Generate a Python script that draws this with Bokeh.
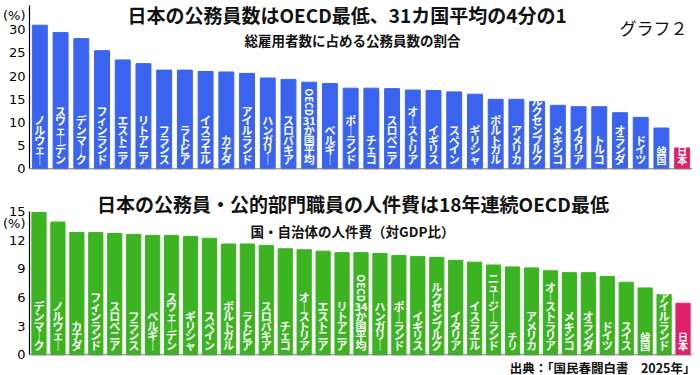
import math
from bokeh.plotting import figure
from bokeh.models import ColumnDataSource, FactorRange, Range1d, FixedTicker, Label, Span
from bokeh.layouts import column
from bokeh.embed import file_html
from bokeh.resources import INLINE
from bokeh.core.properties import value

# ---- data: top chart (公務員数の割合, %) ----
top_countries = ["ノルウェー", "スウェーデン", "デンマーク", "フィンランド", "エストニア", "リトアニア",
                 "フランス", "ラトビア", "イスラエル", "カナダ", "アイルランド", "ハンガリー", "スロバキア",
                 "OECD 31か国平均", "ベルギー", "ポーランド", "チェコ", "スロベニア", "オーストリア",
                 "イギリス", "スペイン", "ギリシャ", "ポルトガル", "アメリカ", "ルクセンブルク",
                 "メキシコ", "イタリア", "トルコ", "オランダ", "ドイツ", "韓国", "日本"]
top_values = [31.0, 29.4, 28.1, 25.5, 23.5, 22.7, 21.3, 21.3, 21.0, 20.9, 20.6, 19.6, 19.3,
              18.7, 18.4, 17.4, 17.4, 17.3, 17.0, 16.9, 16.6, 16.1, 15.0, 15.0, 14.5,
              13.7, 13.4, 13.4, 12.1, 11.1, 8.8, 4.5]
top_ticks = [0, 5, 10, 15, 20, 25, 30]

# ---- data: bottom chart (人件費 対GDP比, %) ----
bottom_countries = ["デンマーク", "ノルウェー", "カナダ", "フィンランド", "スロベニア", "フランス",
                    "ベルギー", "スウェーデン", "ギリシャ", "スペイン", "ポルトガル", "ラトビア",
                    "スロバキア", "チェコ", "オーストリア", "エストニア", "リトアニア", "OECD 34か国平均",
                    "ハンガリー", "ポーランド", "イギリス", "ルクセンブルク", "イタリア", "イスラエル",
                    "ニュージーランド", "チリ", "アメリカ", "オーストラリア", "メキシコ", "オランダ",
                    "ドイツ", "スイス", "韓国", "アイルランド", "日本"]
bottom_values = [14.9, 13.9, 12.8, 12.8, 12.7, 12.6, 12.5, 12.5, 12.4, 12.2, 11.6, 11.6,
                 11.45, 11.1, 11.0, 10.85, 10.7, 10.7, 10.6, 10.4, 10.3, 10.2, 9.9, 9.7,
                 9.4, 9.2, 9.1, 8.8, 8.6, 8.6, 8.2, 7.6, 7.0, 6.3, 5.4]
bottom_ticks = [0, 3, 6, 9, 12, 15]

top_title = "日本の公務員数はOECD最低、31カ国平均の4分の1"
top_subtitle = "総雇用者数に占める公務員数の割合"
graph_tag = "グラフ２"
bottom_title = "日本の公務員・公的部門職員の人件費は18年連続OECD最低"
bottom_subtitle = "国・自治体の人件費（対GDP比）"
source_note = "出典：「国民春闘白書　2025年」"
unit_label = "(%)"
highlight = "日本"

JP = "Noto Sans CJK JP"
BLUE = "#3a64f0"
GREEN = "#3cb422"
PINK = "#e0216a"
LBL_FS = 11
LBL_LH = 0.6
CJK_EM = 1.448  # line box of Noto Sans CJK, in em


def vertical_text(name):
    if name.startswith("OECD"):
        tail = name.split(" ")[1]
        return "\n".join([tail[:2]] + list(tail[2:]))
    return "\n".join("｜" if c == "ー" else c for c in name)


def make_chart(countries, values, ticks, color, width, height, y_start, y_end,
               border_left, border_right, bar_width, bounds, unit_at):
    p = figure(width=width, height=height, output_backend="svg", toolbar_location=None,
               x_range=FactorRange(factors=countries, range_padding=0),
               y_range=Range1d(y_start, y_end), x_axis_location=None,
               min_border_left=border_left, min_border_right=border_right,
               min_border_top=0, min_border_bottom=0)
    p.outline_line_color = None
    p.grid.visible = False
    p.background_fill_color = "white"
    p.border_fill_color = "white"

    colors = [PINK if c == highlight else color for c in countries]
    src = ColumnDataSource(dict(x=countries, top=values, color=colors))
    p.vbar(x="x", top="top", bottom=0, width=bar_width, color="color", source=src)

    p.add_layout(Span(location=0, dimension="width", line_color="#777777", line_width=1))

    ax = p.yaxis[0]
    # the "(%)" unit sits in the tick-label column, just like in the original
    ax.ticker = FixedTicker(ticks=ticks + [unit_at])
    ax.major_label_overrides = {unit_at: unit_label}
    ax.bounds = bounds
    ax.major_tick_out = 0
    ax.major_tick_in = 0
    ax.minor_tick_out = 0
    ax.minor_tick_in = 0
    ax.axis_line_color = "black"
    ax.axis_line_width = 1.2
    ax.major_label_text_font = "DejaVu Sans"
    ax.major_label_text_font_size = "13px"
    ax.major_label_text_color = "black"
    ax.major_label_standoff = 4

    # vertical labels inside bars
    texts = [vertical_text(c) for c in countries]
    sizes = ["10px" if len(c) <= 2 else f"{LBL_FS}px" for c in countries]
    lsrc = ColumnDataSource(dict(x=countries, y=[0] * len(countries), text=texts, fs=sizes))
    p.text(x="x", y="y", text="text", source=lsrc, text_color="white",
           text_font=value(JP), text_font_style="bold", text_font_size="fs",
           text_align="center", text_baseline="bottom", text_line_height=LBL_LH,
           y_offset=-2)

    # rotated "OECD" part of the average label
    oecd = [c for c in countries if c.startswith("OECD")]
    osrc = ColumnDataSource(dict(x=oecd, y=[0] * len(oecd), text=["OECD"] * len(oecd)))
    p.text(x="x", y="y", text="text", source=osrc, text_color="white",
           text_font=value(JP), text_font_style="bold", text_font_size="10px",
           text_align="right", text_baseline="middle", angle=-math.pi / 2,
           y_offset=-(2 + 5 * LBL_FS * LBL_LH * CJK_EM + 3))
    return p


def label(p, x, y, text, size, bold=True, font=JP, align="center"):
    p.add_layout(Label(x=x, y=y, x_units="screen", y_units="screen", text=text,
                       text_font=font, text_font_style="bold" if bold else "normal",
                       text_font_size=size, text_align=align, text_baseline="middle",
                       text_color="#111111"))


# ---- top chart ----  (frame covers whole figure; 0 sits 12px above bottom)
p1 = make_chart(top_countries, top_values, top_ticks, BLUE, width=700, height=180,
                y_start=-2.53, y_end=36.33, border_left=28, border_right=7,
                bar_width=0.72, bounds=(0, 35.2), unit_at=33.1)
label(p1, 317.5, 166, top_title, "19px")
label(p1, 323, 141, top_subtitle, "13.5px")
label(p1, 624, 153, graph_tag, "17px", bold=False)

# ---- bottom chart ----
p2 = make_chart(bottom_countries, bottom_values, bottom_ticks, GREEN, width=700, height=195,
                y_start=-2.17, y_end=18.25, border_left=27, border_right=8,
                bar_width=0.75, bounds=(0, 15), unit_at=13.75)
label(p2, 323.5, 172, bottom_title, "19px")
label(p2, 323, 145, bottom_subtitle, "13.5px")
label(p2, 666, 8, source_note, "12.5px", align="right")

layout = column(p1, p2, spacing=0)
open("out.html", "w").write(file_html(layout, INLINE))
